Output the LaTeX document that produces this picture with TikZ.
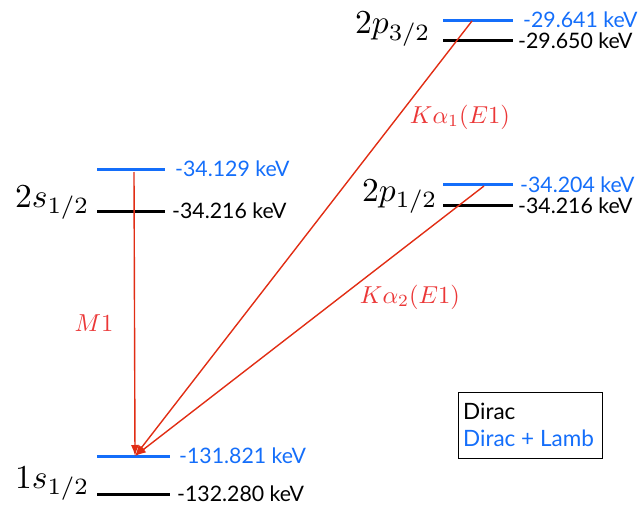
\documentclass[tikz,border=0pt]{standalone}
\usepackage{fontspec}
\setsansfont{Lato}
\usetikzlibrary{arrows.meta}
\definecolor{lamb}{RGB}{20,110,250}
\definecolor{trans}{RGB}{225,45,20}
\definecolor{tlab}{RGB}{235,55,55}
\newcommand{\biglab}[1]{\scalebox{3.35}{$#1$}}
\newcommand{\trlab}[1]{\scalebox{2.45}{$#1$}}
\begin{document}
\begin{tikzpicture}[x=1pt,y=-1pt,
  lvl/.style={line width=3pt},
  elab/.style={font=\sffamily\fontsize{21.3}{21.3}\selectfont, anchor=west, inner sep=0pt},
  leglab/.style={font=\sffamily\fontsize{22.5}{22.5}\selectfont, anchor=base west, inner sep=0pt},
  slab/.style={font=\fontsize{10}{12}\selectfont, anchor=base west, inner sep=0pt},
  tr/.style={trans, line width=1.4pt, -{Latex[length=11pt,width=8pt]}},
  tl/.style={tlab, font=\fontsize{10}{12}\selectfont, inner sep=0pt}]
\useasboundingbox (0,0) rectangle (641,506);
% 2s
\draw[lvl,lamb] (97,169) -- (165,169);
\draw[lvl] (97,211) -- (165,211);
\node[elab,text=lamb] (e1) at (175,169) {-34.129 keV};
\node[elab] (e2) at (172,211) {-34.216 keV};
\node[slab] (l2s) at (15,207) {\biglab{2s_{1/2}}};
% 1s
\draw[lvl,lamb] (97,456) -- (170,456);
\draw[lvl] (97,494) -- (170,494);
\node[elab,text=lamb] (e3) at (179,456) {-131.821 keV};
\node[elab] (e4) at (177,494) {-132.280 keV};
\node[slab] (l1s) at (15,488) {\biglab{1s_{1/2}}};
% 2p3/2
\draw[lvl,lamb] (443,20) -- (513,20);
\draw[lvl] (443,40) -- (513,40);
\node[elab,text=lamb] (e5) at (523,20) {-29.641 keV};
\node[elab] (e6) at (518,41) {-29.650 keV};
\node[slab] (l2p3) at (355,34) {\biglab{2p_{3/2}}};
% 2p1/2
\draw[lvl,lamb] (443,184) -- (513,184);
\draw[lvl] (443,205) -- (513,205);
\node[elab,text=lamb] (e7) at (520,185) {-34.204 keV};
\node[elab] (e8) at (518,206) {-34.216 keV};
\node[slab] (l2p1) at (362,201) {\biglab{2p_{1/2}}};
% transitions
\coordinate (g) at (135,456);
\coordinate (a) at (134,172);
\coordinate (b) at (472,21);
\coordinate (c) at (484,186);
\draw[tr] (a) -- (g);
\draw[tr] (b) -- (g);
\draw[tr] (c) -- (g);
\node[tl] (m1) at (94,323) {\trlab{M1}};
\node[tl] (ka1) at (460,117) {\trlab{K\alpha_1(E1)}};
\node[tl] (ka2) at (410,297) {\trlab{K\alpha_2(E1)}};
% legend
\node[draw, line width=0.8pt, minimum width=144pt, minimum height=66pt, anchor=north west, inner sep=0pt] (leg) at (458,392) {};
\node[leglab] (d1) at (463,419) {Dirac};
\node[leglab, text=lamb] (d2) at (463,446) {Dirac + Lamb};
\end{tikzpicture}
\end{document}
